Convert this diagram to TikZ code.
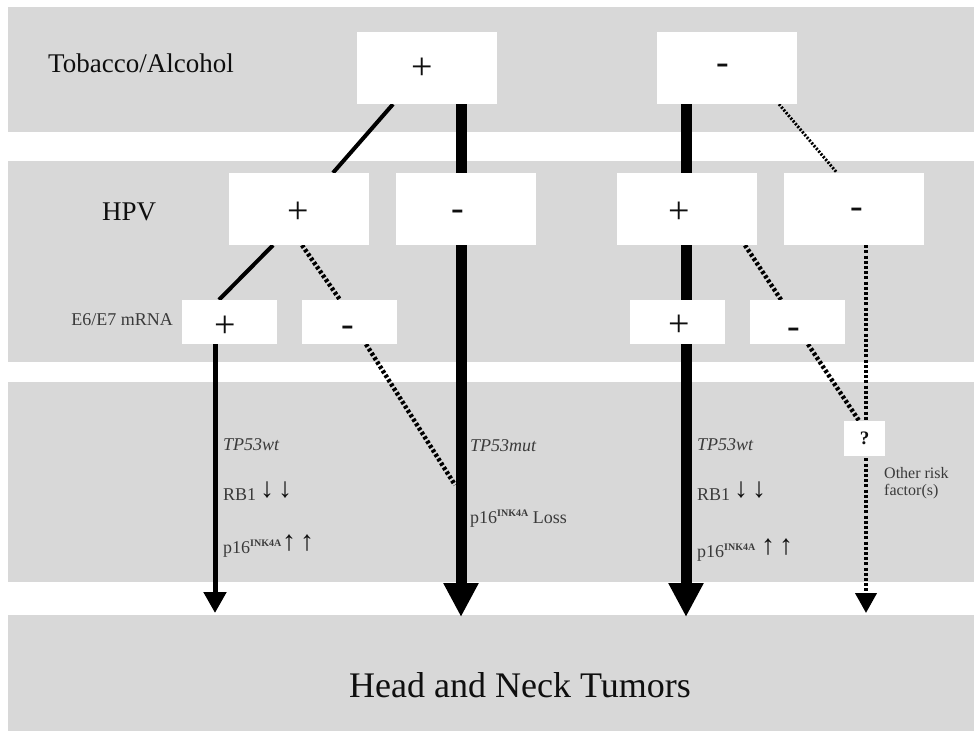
\documentclass[tikz,border=0pt]{standalone}
\usepackage{fontspec}
\setmainfont{Liberation Serif}
\usetikzlibrary{arrows.meta,calc}
\pgfdeclarelayer{bands}
\pgfdeclarelayer{links}
\pgfsetlayers{bands,links,main}
\definecolor{bandgray}{RGB}{216,216,216}
\definecolor{labgray}{RGB}{58,58,58}
\definecolor{inkblack}{RGB}{15,15,15}
\tikzset{
  bigbox/.style={fill=white,draw=none,inner sep=0pt,minimum width=140pt,minimum height=72pt},
  smallbox/.style={fill=white,draw=none,inner sep=0pt,minimum width=95pt,minimum height=44pt},
  qbox/.style={fill=white,draw=none,inner sep=0pt,minimum width=41pt,minimum height=35pt,
    font=\fontsize{19}{19}\selectfont\bfseries,text=inkblack},
  sign/.style={inner sep=0pt,font=\fontsize{38}{38}\selectfont,text=inkblack},
  rowlabel/.style={anchor=base west,inner sep=0pt,font=\fontsize{27}{27}\selectfont,text=inkblack},
  smalllabel/.style={anchor=base west,inner sep=0pt,font=\fontsize{18}{18}\selectfont,text=labgray},
  arrowglyph/.style={inner sep=0pt,font=\fontsize{28}{28}\selectfont,text=inkblack},
  solidlink/.style={line width=4pt,draw=black},
  thinarrow/.style={line width=5pt,draw=black,-{Triangle[width=22pt,length=21pt]}},
  thickarrow/.style={line width=11pt,draw=black,-{Triangle[width=33pt,length=34pt]}},
  dotlink/.style={line width=4.5pt,draw=black,dash pattern=on 3pt off 2.2pt},
  thindot/.style={line width=3pt,draw=black,dash pattern=on 2pt off 1.6pt},
  dotarrow/.style={line width=4pt,draw=black,dash pattern=on 3pt off 2.2pt,-{Triangle[width=21pt,length=20pt]}}
}
\newcommand{\inksup}{\raisebox{6.5pt}{\fontsize{10}{10}\selectfont\bfseries INK4A}}
\begin{document}
\begin{tikzpicture}[x=1pt,y=-1pt]
\useasboundingbox (0,0) rectangle (974,731);

% boxes
\node[bigbox] (tp) at (426.5,68) {};
\node[bigbox] (tm) at (727,68) {};
\node[bigbox] (hp1) at (299,209) {};
\node[bigbox] (hm1) at (466,209) {};
\node[bigbox] (hp2) at (687,209) {};
\node[bigbox] (hm2) at (854,209) {};
\node[smallbox] (ep1) at (229.5,322) {};
\node[smallbox] (em1) at (349.5,322) {};
\node[smallbox] (ep2) at (677.5,322) {};
\node[smallbox] (em2) at (797.5,322) {};
\node[qbox] (q) at (864.5,438.5) {?};

% signs inside the boxes
\node[sign] (tps) at ($(tp)+(-4.5,1)$) {+};
\node[sign] (tms) at ($(tm)+(-4,1.5)$) {-};
\node[sign] (hp1s) at ($(hp1)+(-1,4)$) {+};
\node[sign] (hm1s) at ($(hm1)+(-8,6.5)$) {-};
\node[sign] (hp2s) at ($(hp2)+(-8,4)$) {+};
\node[sign] (hm2s) at ($(hm2)+(3,4.5)$) {-};
\node[sign] (ep1s) at ($(ep1)+(-4.5,5)$) {+};
\node[sign] (em1s) at ($(em1)+(-1.5,9)$) {-};
\node[sign] (ep2s) at ($(ep2)+(1.5,4)$) {+};
\node[sign] (em2s) at ($(em2)+(-3.5,11)$) {-};

% end points
\coordinate (tip1) at (215,613);
\coordinate (tip2) at (461,617);
\coordinate (tip3) at (686,617);
\coordinate (tip4) at (866,613);
\coordinate (join1) at (455,485);

\begin{pgfonlayer}{bands}
  \fill[bandgray] (8,7) rectangle (974,132);
  \fill[bandgray] (8,161) rectangle (974,362);
  \fill[bandgray] (8,382) rectangle (974,582);
  \fill[bandgray] (8,615) rectangle (974,731);
\end{pgfonlayer}

\begin{pgfonlayer}{links}
  \draw[solidlink] ($(tp.south)+(-33.5,0)$) -- ($(hp1.north)+(34,0)$);
  \draw[thickarrow] ($(tp.south)+(34.5,0)$) -- (tip2);
  \draw[thickarrow] ($(tm.south)+(-41,0)$) -- (tip3);
  \draw[thindot] ($(tm.south)+(52,0)$) -- ($(hm2.north)+(-17,0)$);
  \draw[solidlink] ($(hp1.south)+(-26,0)$) -- ($(ep1.north)+(-10.5,0)$);
  \draw[dotlink] ($(hp1.south)+(3,0)$) -- ($(em1.north)+(-9.5,0)$);
  \draw[dotlink] ($(em1.south)+(16.5,0)$) -- (join1);
  \draw[thinarrow] ($(ep1.south)+(-14.5,0)$) -- (tip1);
  \draw[dotlink] ($(hp2.south)+(58,0)$) -- ($(em2.north)+(-16.5,0)$);
  \draw[dotlink] ($(em2.south)+(10.5,0)$) -- ($(q.north)+(-5.5,0)$);
  \draw[dotarrow] ($(hm2.south)+(12,0)$) -- (tip4);
\end{pgfonlayer}

% row labels
\node[rowlabel] (ltob) at (48,72) {Tobacco/Alcohol};
\node[rowlabel] (lhpv) at (102,220) {HPV};
\node[smalllabel,anchor=base east] (le6) at (173,325) {E6/E7 mRNA};

% pathway labels left
\node[smalllabel] (wt1) at (223,450) {\itshape TP53wt};
\node[smalllabel] (rb1) at (223,500) {RB1};
\node[arrowglyph] (d1) at (267,490) {↓};
\node[arrowglyph] (d2) at (285,490) {↓};
\node[smalllabel] (p1) at (223,553) {p16\inksup};
\node[arrowglyph] (u1) at (289,543) {↑};
\node[arrowglyph] (u2) at (307,543) {↑};

% middle
\node[smalllabel] (mut) at (470,451) {\itshape TP53mut};
\node[smalllabel] (loss) at (470,523) {p16\inksup\ Loss};

% right
\node[smalllabel] (wt2) at (697,450) {\itshape TP53wt};
\node[smalllabel] (rb2) at (697,500) {RB1};
\node[arrowglyph] (d3) at (741,490) {↓};
\node[arrowglyph] (d4) at (759,490) {↓};
\node[smalllabel] (p2) at (697,557) {p16\inksup};
\node[arrowglyph] (u3) at (768,547) {↑};
\node[arrowglyph] (u4) at (786,547) {↑};

\node[smalllabel,align=left,font=\fontsize{16}{17}\selectfont] (other) at (884,495) {Other risk\\factor(s)};

\node[anchor=base west,inner sep=0pt,font=\fontsize{36}{36}\selectfont,text=inkblack] (hnt) at (349,697) {Head and Neck Tumors};
\end{tikzpicture}
\end{document}
